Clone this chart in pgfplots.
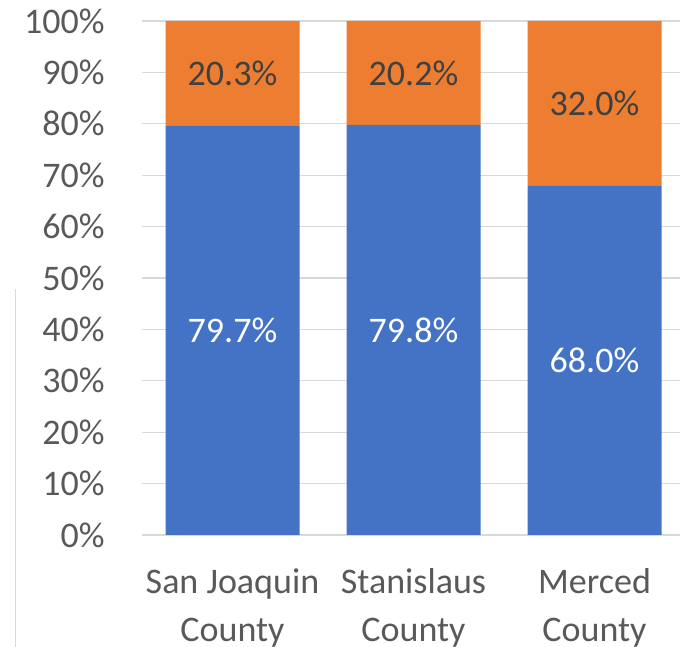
\documentclass[border=0pt]{standalone}
\usepackage{pgfplots}
\pgfplotsset{compat=1.18}
\usepackage{fontspec}
\setmainfont{Carlito}
\definecolor{xlblue}{HTML}{4472C4}
\definecolor{xlorange}{HTML}{ED7D31}
\definecolor{gridgray}{HTML}{D9D9D9}
\definecolor{ticktext}{HTML}{595959}
\definecolor{darklabel}{HTML}{404040}
\begin{document}
\begin{tikzpicture}
\useasboundingbox (0,0) rectangle (340pt,323.5pt);
\draw[gridgray, line width=0.6pt] (7.75pt,0) -- (7.75pt,179pt);
\begin{axis}[
 at={(71pt,56pt)}, anchor=south west,
 scale only axis, width=271.5pt, height=257pt,
 ybar stacked, bar width=67pt,
 xmin=-0.5, xmax=2.5, ymin=0, ymax=100,
 xtick={0,1,2},
 xticklabels={{San Joaquin\\County},{Stanislaus\\County},{Merced\\County}},
 ytick={0,10,...,100},
 /pgf/number format/assume math mode=true,
 yticklabel={\pgfmathprintnumber{\tick}\%},
 axis line style={draw=none}, major tick length=0pt,
 ymajorgrids, grid style={gridgray, line width=0.6pt},
 tick label style={font=\fontsize{18}{24}\selectfont, text=ticktext},
 yticklabel style={anchor=east, inner sep=0pt, xshift=-18.5pt},
 xticklabel style={anchor=north, align=center, inner sep=0pt, yshift=-16.5pt},
 nodes near coords={\pgfmathprintnumber[fixed,fixed zerofill,precision=1,assume math mode=true]{\rawy}\%},
 visualization depends on={rawy \as \rawy},
 every node near coord/.append style={anchor=center, font=\fontsize{18}{24}\selectfont},
]
\addplot[fill=xlblue, draw=none, every node near coord/.append style={text=white}]
 coordinates {(0,79.7) (1,79.8) (2,68.0)};
\addplot[fill=xlorange, draw=none, every node near coord/.append style={text=darklabel}]
 coordinates {(0,20.3) (1,20.2) (2,32.0)};
\end{axis}
\end{tikzpicture}
\end{document}
